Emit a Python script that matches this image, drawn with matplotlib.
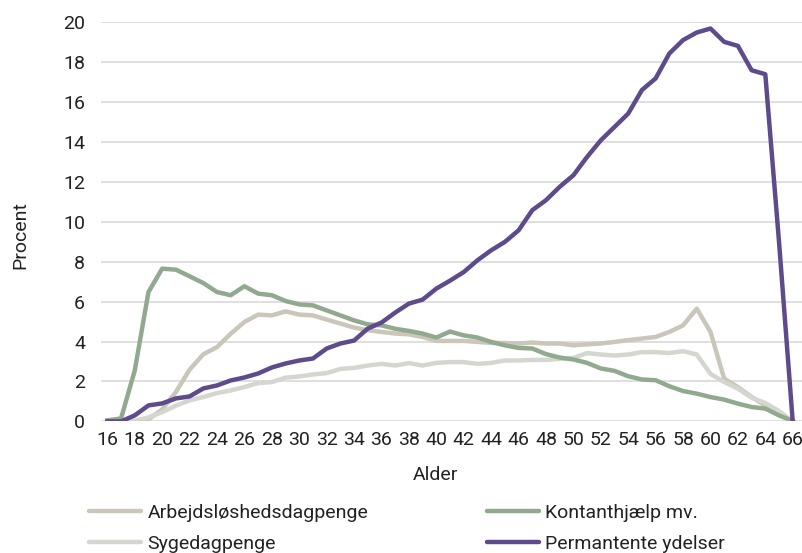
import numpy as np
import matplotlib
matplotlib.use("Agg")
import matplotlib.pyplot as plt

plt.rcParams['font.family'] = ['Roboto', 'DejaVu Sans']

# Alder 16-66
alder = list(range(16, 67))

arbejdsloeshed = [0, 0, 0, 0.1, 0.6, 1.47, 2.59, 3.36, 3.72, 4.39, 4.98, 5.35, 5.31, 5.51, 5.35,
                  5.31, 5.1, 4.9, 4.7, 4.57, 4.48, 4.4, 4.36, 4.23, 4.03, 4.03, 4.03, 3.98, 3.93,
                  3.93, 3.9, 3.95, 3.9, 3.9, 3.81, 3.86, 3.9, 3.98, 4.07, 4.15, 4.23, 4.48, 4.81,
                  5.65, 4.48, 2.14, 1.72, 1.22, 0.8, 0.38, 0]

kontanthjaelp = [0.05, 0.15, 2.55, 6.48, 7.65, 7.6, 7.27, 6.93, 6.48, 6.32, 6.77, 6.4, 6.32, 6.03,
                 5.86, 5.81, 5.56, 5.31, 5.06, 4.86, 4.81, 4.64, 4.53, 4.4, 4.2, 4.5, 4.31, 4.2,
                 3.98, 3.81, 3.68, 3.65, 3.37, 3.2, 3.1, 2.93, 2.65, 2.53, 2.26, 2.1, 2.06, 1.76,
                 1.52, 1.39, 1.22, 1.09, 0.89, 0.72, 0.64, 0.3, 0.02]

sygedagpenge = [0, 0, 0.03, 0.2, 0.46, 0.79, 1.05, 1.22, 1.42, 1.55, 1.72, 1.92, 1.97, 2.19, 2.25,
                2.35, 2.42, 2.63, 2.68, 2.8, 2.88, 2.8, 2.92, 2.8, 2.93, 2.97, 2.97, 2.88, 2.93,
                3.05, 3.05, 3.08, 3.08, 3.13, 3.18, 3.42, 3.35, 3.3, 3.35, 3.47, 3.47, 3.42, 3.52,
                3.35, 2.38, 1.97, 1.64, 1.19, 0.92, 0.52, 0]

permanente = [0, 0, 0.3, 0.8, 0.9, 1.15, 1.25, 1.65, 1.8, 2.05, 2.2, 2.4, 2.7, 2.9, 3.05, 3.15,
              3.65, 3.9, 4.05, 4.65, 4.95, 5.45, 5.9, 6.1, 6.65, 7.05, 7.48, 8.07, 8.57, 8.99,
              9.57, 10.58, 11.08, 11.75, 12.33, 13.25, 14.08, 14.75, 15.42, 16.6, 17.18, 18.43,
              19.1, 19.48, 19.68, 19.01, 18.81, 17.59, 17.39, 9.0, 0]

fs = 14
txt = '#222222'

fig = plt.figure(figsize=(8.03, 5.53), dpi=100)
ax = fig.add_axes([0.126, 0.238, 0.874, 0.722])

lw = 3.2
l1, = ax.plot(alder, arbejdsloeshed, color='#CAC6BA', lw=lw, label='Arbejdsløshedsdagpenge')
l3, = ax.plot(alder, sygedagpenge, color='#D4D6D0', lw=lw, label='Sygedagpenge')
l2, = ax.plot(alder, kontanthjaelp, color='#91A98F', lw=lw, label='Kontanthjælp mv.')
l4, = ax.plot(alder, permanente, color='#5E4B8B', lw=lw, label='Permantente ydelser')

ax.set_xlim(15.55, 66.75)
ax.set_ylim(0, 20)
ax.set_xticks(range(16, 67, 2))
ax.set_yticks(range(0, 21, 2))
ax.grid(axis='y', color='#D9D9D9', lw=1.2)
ax.set_axisbelow(True)
for s in ax.spines.values():
    s.set_visible(False)
ax.tick_params(length=0, labelsize=fs, colors=txt)
ax.tick_params(axis='x', pad=7)
ax.tick_params(axis='y', pad=11.5)

ax.set_xlabel('Alder', fontsize=fs, color=txt)
ax.set_ylabel('Procent', fontsize=fs, color=txt)
ax.xaxis.set_label_coords(0.477, -0.112)
ax.yaxis.set_label_coords(-0.103, 0.466)

leg = fig.legend(handles=[l1, l3, l2, l4], ncol=2, loc='lower left',
                 bbox_to_anchor=(0.089, -0.032), frameon=False, fontsize=fs,
                 handlelength=2.7, handletextpad=0.3, columnspacing=6.1, labelspacing=0.7)
for t in leg.get_texts():
    t.set_color(txt)
for h in leg.get_lines():
    h.set_solid_capstyle('round')

fig.savefig('out.png', dpi=100)
